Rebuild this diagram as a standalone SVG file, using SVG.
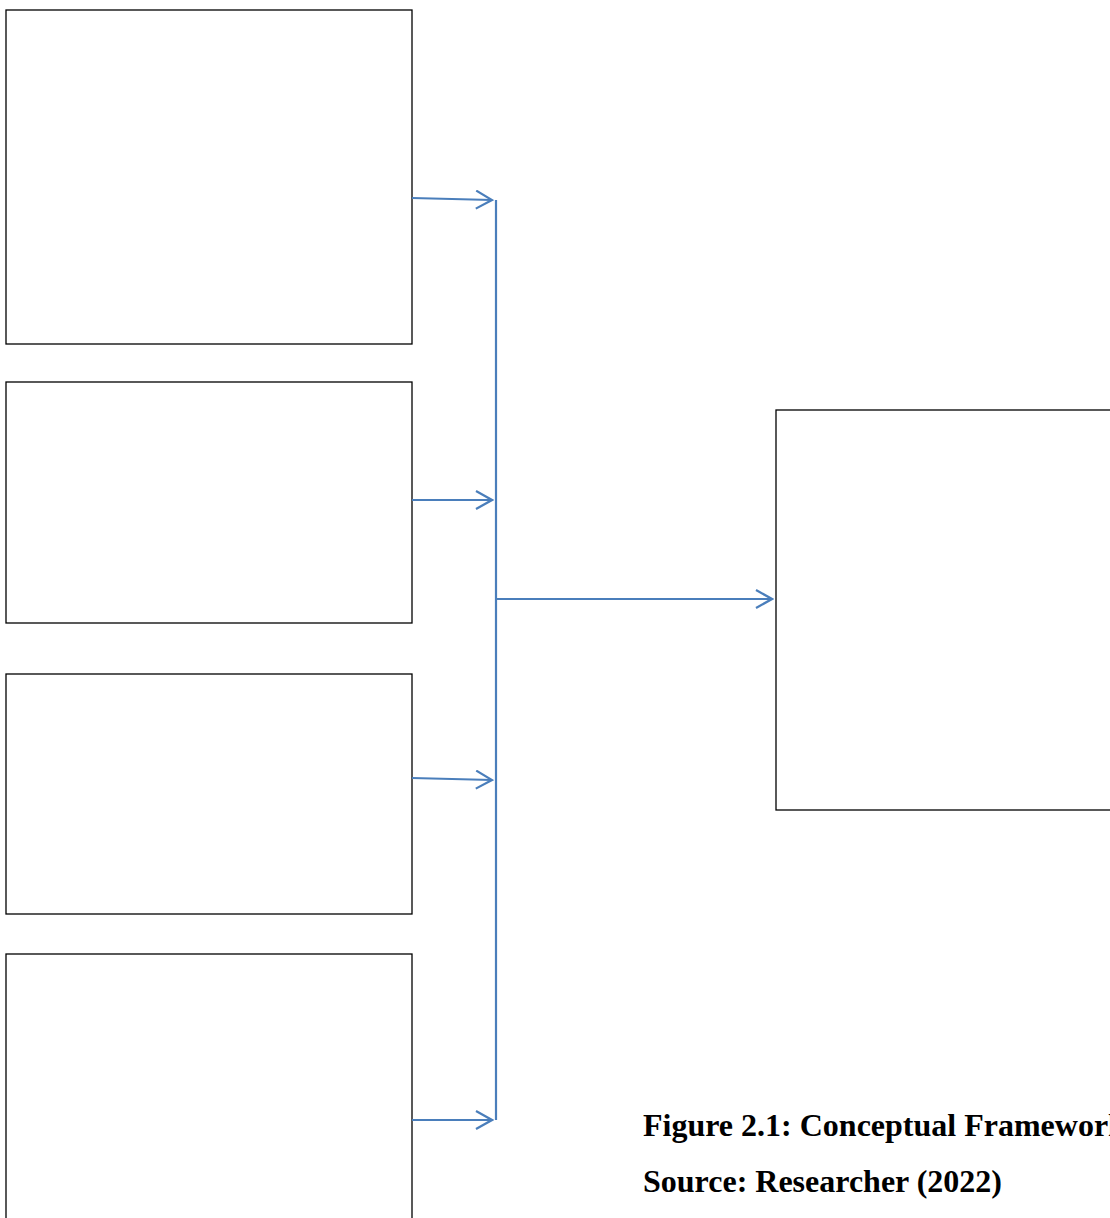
<svg xmlns="http://www.w3.org/2000/svg" width="1110" height="1218" viewBox="0 0 1110 1218">
<style>
.box{fill:#fff;stroke:#000;stroke-width:1.3}
.conn{fill:none;stroke:#4a7ebb;stroke-width:2.2}
.cap{font-family:"Liberation Serif","Times New Roman",serif;font-weight:bold;font-size:32px;fill:#000}
</style>
<defs>
<marker id="arr" viewBox="0 0 20 20" refX="18" refY="10" markerWidth="20" markerHeight="20" markerUnits="userSpaceOnUse" orient="auto">
<path d="M2,1 L18,10 L2,19" fill="none" stroke="#4a7ebb" stroke-width="2.2"/>
</marker>
</defs>
<rect width="1110" height="1218" fill="#fff"/>
<g id="box1"><rect class="box" x="6" y="10" width="406" height="334"/></g>
<g id="box2"><rect class="box" x="6" y="382" width="406" height="241"/></g>
<g id="box3"><rect class="box" x="6" y="674" width="406" height="240"/></g>
<g id="box4"><rect class="box" x="6" y="954" width="406" height="280"/></g>
<g id="box5"><rect class="box" x="776" y="410" width="350" height="400"/></g>
<g id="connectors">
<path class="conn" d="M412,198 L492,200" marker-end="url(#arr)"/>
<path class="conn" d="M412,500 L492,500" marker-end="url(#arr)"/>
<path class="conn" d="M412,778 L492,780" marker-end="url(#arr)"/>
<path class="conn" d="M412,1120 L492,1120" marker-end="url(#arr)"/>
<path class="conn" d="M496,200 L496,1120"/>
<path class="conn" d="M496,599 L772,599" marker-end="url(#arr)"/>
</g>
<g id="caption">
<text class="cap" x="643" y="1136">Figure 2.1: Conceptual Framework</text>
<text class="cap" x="643" y="1192">Source: Researcher (2022)</text>
</g>
</svg>
